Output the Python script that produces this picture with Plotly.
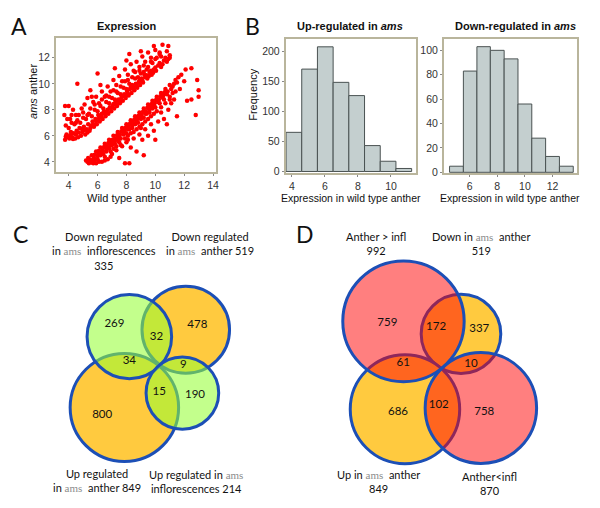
import plotly.graph_objects as go

# ---------------- Panel A: scatter (wild type anther vs ams anther) ----------------
UP_POINTS = [
    (3.75,5.7),(3.85,6.1),(3.95,5.9),(4.05,5.8),(4.15,6.3),(4.25,5.9),(4.35,6.2),(4.45,5.8),(4.55,6.4),(4.65,5.9),
    (4.75,6.6),(4.85,6.0),(4.95,6.3),(5.05,6.7),(5.15,6.1),(5.25,6.5),(5.35,6.9),(5.45,6.4),(5.55,6.8),(5.65,7.1),
    (5.75,6.7),(5.85,7.3),(5.95,6.9),(6.05,7.6),(6.15,7.1),(6.25,7.5),(6.35,7.3),(6.45,7.9),(6.55,7.5),(6.65,7.8),
    (6.75,7.7),(6.85,8.2),(6.95,7.9),(7.05,8.3),(7.15,8.1),(7.25,8.6),(7.35,8.3),(7.45,8.8),(7.55,8.5),(7.65,8.9),
    (7.75,8.7),(7.85,9.2),(7.95,8.9),(8.05,9.4),(8.15,9.1),(8.25,9.6),(8.35,9.3),(8.45,9.8),(8.55,9.5),(8.65,10.0),
    (8.75,9.7),(8.85,10.1),(8.95,9.9),(9.05,10.4),(9.15,10.1),(9.3,10.5),(9.45,10.4),(9.6,10.9),(9.75,10.7),(9.9,11.1),
    (10.05,11.0),(10.2,11.4),(10.4,11.3),(10.6,11.8),(10.8,11.7),(11.0,12.0),
    (3.8,5.95),(4.1,6.05),(4.3,5.75),(4.5,6.1),(4.7,6.25),(4.9,6.55),(5.1,6.45),(5.3,6.25),(5.5,6.6),(5.7,6.9),
    (5.9,7.15),(6.1,7.35),(6.3,7.7),(6.5,7.7),(6.7,8.0),(6.9,8.1),(7.1,8.45),(7.3,8.45),(7.5,8.65),(7.7,9.05),
    (7.9,9.05),(8.1,9.25),(8.3,9.75),(8.5,9.65),(8.7,9.85),(8.9,10.25),(9.1,10.25),(9.25,10.7),(9.4,10.65),(9.55,10.6),
    (9.7,11.0),(9.85,10.85),(10.0,11.25),(10.3,11.6),(10.5,11.5),(10.7,12.0),(10.9,11.9),
    (3.8,6.8),(4.0,6.6),(4.2,7.0),(4.4,6.9),(4.6,7.2),(4.8,7.0),(5.0,7.4),(5.2,7.3),(5.4,7.7),(5.6,7.5),
    (5.8,8.0),(6.0,7.9),(6.2,8.3),(6.4,8.1),(6.6,8.6),(6.8,8.5),(7.0,8.9),(7.2,8.8),(7.4,9.3),(7.6,9.2),
    (7.8,9.7),(8.0,9.6),(8.2,10.0),(8.4,9.9),(8.6,10.4),(8.8,10.5),(9.0,10.8),(9.2,10.9),(9.5,11.3),(9.8,11.6),
    (10.1,12.0),(10.4,12.1),
    (4.1,7.3),(4.5,7.0),(4.7,7.6),(5.0,7.8),(5.3,7.6),(5.5,8.1),(5.8,8.4),(6.1,8.5),(6.3,8.8),(6.6,9.1),
    (6.8,9.0),(7.1,9.5),(7.3,9.4),(7.6,9.8),(7.9,10.2),(8.1,10.3),(8.4,10.5),(8.6,10.9),(8.9,11.0),(9.2,11.4),
    (9.4,11.1),(9.7,11.7),(10.0,11.9),(10.3,12.4),
    (3.7,7.6),(3.75,8.3),(4.0,8.3),(3.9,7.3),(4.3,8.0),(4.5,7.6),(4.6,10.0),(4.9,8.1),(5.1,8.4),(5.3,8.9),
    (5.5,9.5),(5.7,8.6),(5.9,9.0),(6.0,10.8),(6.3,9.4),(6.5,9.0),(6.7,9.8),(6.9,9.4),(7.1,10.3),(7.3,9.9),
    (7.5,10.6),(7.7,10.2),(7.9,11.1),(8.1,10.7),(8.2,12.3),(8.3,11.5),(8.5,11.0),(8.7,11.7),(8.9,11.3),(9.1,12.1),
    (9.3,11.7),(9.5,12.4),(9.7,12.0),(10.0,12.6),(10.3,12.3),(10.5,13.0),(10.8,12.5),(10.9,12.9),(11.0,12.2),(9.9,12.9),
    (7.2,11.2),(6.2,9.9),(5.6,9.0),(4.2,7.6),(8.0,11.8),(9.0,12.5),
]
DOWN_POINTS = [
    (5.2,4.1),(5.35,4.3),(5.5,4.0),(5.6,4.5),(5.75,4.3),(5.9,4.8),(6.05,4.6),(6.2,5.1),(6.35,4.9),(6.5,5.4),
    (6.65,5.2),(6.8,5.7),(6.95,5.5),(7.1,6.0),(7.25,5.8),(7.4,6.3),(7.55,6.1),(7.7,6.6),(7.85,6.4),(8.0,6.9),
    (8.15,6.7),(8.3,7.2),(8.45,7.0),(8.6,7.5),(8.75,7.3),(8.9,7.8),(9.05,7.6),(9.2,8.1),(9.35,7.9),(9.5,8.4),
    (9.65,8.2),(9.8,8.7),(9.95,8.5),(10.1,9.0),(10.25,8.8),(10.4,9.3),(10.55,9.1),(10.7,9.6),(10.85,9.4),(11.0,9.9),
    (11.2,9.8),(11.4,10.3),(11.6,10.5),(11.8,10.7),
    (5.3,4.0),(5.45,4.2),(5.65,4.15),(5.8,4.55),(6.0,4.45),(6.1,4.85),(6.3,4.7),(6.45,5.15),(6.6,5.0),(6.75,5.45),
    (6.9,5.25),(7.05,5.7),(7.2,5.6),(7.35,6.05),(7.5,5.9),(7.65,6.35),(7.8,6.25),(7.95,6.65),(8.1,6.5),(8.25,6.95),
    (8.4,6.8),(8.55,7.25),(8.7,7.1),(8.85,7.55),(9.0,7.45),(9.15,7.85),(9.3,7.7),(9.45,8.15),(9.6,8.05),(9.75,8.45),
    (9.9,8.3),(10.05,8.75),(10.2,8.6),(10.35,9.05),(10.5,8.95),(10.65,9.35),(10.8,9.2),(11.1,9.6),(11.3,10.0),(11.5,10.1),
    (5.4,3.9),(5.7,3.9),(5.8,4.1),(6.0,4.2),(6.2,4.5),(6.4,4.6),(6.6,4.8),(6.8,5.0),(7.0,5.3),(7.2,5.4),
    (7.4,5.7),(7.6,5.8),(7.8,6.1),(8.0,6.2),(8.2,6.5),(8.4,6.6),(8.6,6.9),(8.8,7.0),(9.0,7.3),(9.2,7.4),
    (9.4,7.7),(9.6,7.8),(9.8,8.1),(10.0,8.2),(10.3,8.5),(10.6,8.8),
    (5.6,3.95),(6.1,4.0),(6.5,4.4),(6.9,4.8),(7.1,5.0),(7.3,5.2),(7.5,5.5),(7.9,5.8),(8.1,5.7),(8.3,6.2),
    (8.5,6.3),(8.7,6.5),(8.9,6.7),(9.1,6.9),(9.3,7.1),(9.5,7.3),(9.7,7.5),(9.9,7.7),(10.1,7.9),(10.4,8.2),
    (10.7,8.5),(11.0,8.8),(11.2,9.3),
    (5.9,3.9),(6.3,4.0),(6.7,4.2),(7.0,4.6),(7.3,4.9),(7.5,4.3),(7.7,5.2),(7.9,3.9),(8.2,3.9),(8.0,5.5),
    (8.3,5.1),(8.5,5.8),(8.7,4.8),(8.9,6.1),(9.1,5.7),(9.2,4.5),(9.3,6.5),(9.5,6.0),(9.7,6.9),(9.9,6.4),
    (10.0,5.7),(10.2,7.1),(10.4,7.8),(10.6,7.3),(10.9,8.0),(11.1,8.5),(11.3,8.8),(11.5,7.5),(11.4,9.4),(11.7,9.6),
    (12.0,10.2),(12.1,11.1),(12.5,11.2),(12.2,8.7),(12.5,8.8),(12.8,7.6),(12.9,10.3),(13.0,9.5),(13.0,9.0),(10.8,6.9),
    (11.0,9.0),(9.0,6.6),(8.1,6.0),(7.6,5.3),(6.9,4.4),(6.5,4.1),
]
A_XTICKS = [4, 6, 8, 10, 12, 14]
A_YTICKS = [4, 6, 8, 10, 12]

# ---------------- Panel B: histograms ----------------
UP_EDGES = [3.65, 4.6, 5.55, 6.5, 7.45, 8.4, 9.35, 10.3, 11.25]
UP_COUNTS = [65, 170, 207, 148, 126, 43, 17, 5]
DOWN_EDGES = [4.55, 5.55, 6.53, 7.5, 8.5, 9.5, 10.5, 11.5, 12.5, 13.5]
DOWN_COUNTS = [5, 83, 103, 100, 93, 56, 28, 13, 5]
UP_XTICKS = [4, 6, 8, 10]
UP_YTICKS = [0, 50, 100, 150, 200]
DOWN_XTICKS = [6, 8, 10, 12]
DOWN_YTICKS = [0, 20, 40, 60, 80, 100]

# ---------------- Panel C / D: Venn counts ----------------
C_REGION_COUNTS = [269, 32, 478, 34, 9, 15, 190, 800]
C_SET_TOTALS = [335, 519, 849, 214]
D_REGION_COUNTS = [759, 172, 337, 61, 10, 102, 686, 758]
D_SET_TOTALS = [992, 519, 849, 870]

# Venn geometry (local units, layout only)
C_CIRCLES = [  # (cx, cy, r, kind)
    (36.7, 37.0, 44.0, "orange"),
    (-25.0, -41.5, 54.5, "orange"),
    (-20.0, 30.0, 42.5, "green"),
    (33.3, -27.0, 36.5, "green"),
]
C_LABEL_POS = [(-35, 42.7), (7.3, 30), (48.3, 41.3), (-20, 5.7), (34.3, 1.7), (10, -26), (46, -28.7), (-47.3, -49.3)]
D_CIRCLES = [
    (13.3, 32.8, 40.0, "orange"),
    (-43.0, -43.3, 55.0, "orange"),
    (-44.5, 45.5, 61.0, "pink"),
    (33.3, -42.0, 56.0, "pink"),
]
D_LABEL_POS = [(-60.7, 43.3), (-11.7, 40), (31.7, 37.7), (-44.7, 3.3), (23.3, 2.7), (-9, -39), (-50, -46), (36.7, -46.7)]

FILLS = {"orange": "rgb(255,202,63)", "green": "rgba(150,255,53,0.57)", "pink": "rgba(255,0,0,0.5)"}
BLUE = "#1c4fb6"
FONT = "Liberation Sans"
VFONT = "Lato"

fig = go.Figure()

# Scatter
fig.add_trace(go.Scatter(x=[p[0] for p in UP_POINTS], y=[p[1] for p in UP_POINTS], mode="markers",
                         marker=dict(color="#ff0000", size=4.5), xaxis="x", yaxis="y", showlegend=False))
fig.add_trace(go.Scatter(x=[p[0] for p in DOWN_POINTS], y=[p[1] for p in DOWN_POINTS], mode="markers",
                         marker=dict(color="#ff0000", size=4.5), xaxis="x", yaxis="y", showlegend=False))

# Histograms
def bar_from_edges(edges, counts, xa, ya):
    centers = [(edges[i] + edges[i + 1]) / 2 for i in range(len(counts))]
    widths = [edges[i + 1] - edges[i] for i in range(len(counts))]
    return go.Bar(x=centers, y=counts, width=widths, xaxis=xa, yaxis=ya, showlegend=False,
                  marker=dict(color="#c4cfcf", line=dict(color="#4a5252", width=1)))

fig.add_trace(bar_from_edges(UP_EDGES, UP_COUNTS, "x2", "y2"))
fig.add_trace(bar_from_edges(DOWN_EDGES, DOWN_COUNTS, "x3", "y3"))

# Venn numbers as text traces
fig.add_trace(go.Scatter(x=[p[0] for p in C_LABEL_POS], y=[p[1] for p in C_LABEL_POS], mode="text",
                         text=[str(v) for v in C_REGION_COUNTS], textfont=dict(family=VFONT, size=11.5, color="#111"),
                         xaxis="x4", yaxis="y4", showlegend=False))
fig.add_trace(go.Scatter(x=[p[0] for p in D_LABEL_POS], y=[p[1] for p in D_LABEL_POS], mode="text",
                         text=[str(v) for v in D_REGION_COUNTS], textfont=dict(family=VFONT, size=11.5, color="#111"),
                         xaxis="x5", yaxis="y5", showlegend=False))

shapes = []
for circles, xr, yr in [(C_CIRCLES, "x4", "y4"), (D_CIRCLES, "x5", "y5")]:
    for cx, cy, r, kind in circles:
        shapes.append(dict(type="circle", xref=xr, yref=yr, x0=cx - r, x1=cx + r, y0=cy - r, y1=cy + r,
                           fillcolor=FILLS[kind], line=dict(color=BLUE, width=3), layer="below"))

tickfont = dict(family=FONT, size=10.5, color="#333")
frame = dict(showline=True, mirror=True, linecolor="#b9b59c", linewidth=1.5, ticks="outside",
             ticklen=2, tickcolor="#888", showgrid=False, zeroline=False, tickfont=tickfont)

fig.update_layout(
    width=600, height=508, margin=dict(l=0, r=0, t=0, b=0),
    paper_bgcolor="white", plot_bgcolor="white", showlegend=False, barmode="overlay",
    xaxis=dict(domain=[0.0933, 0.3617], range=[3.1, 14.2], tickvals=A_XTICKS, anchor="y", **frame),
    yaxis=dict(domain=[0.6575, 0.9252], range=[3.2, 13.55], tickvals=A_YTICKS, anchor="x", **frame),
    xaxis2=dict(domain=[0.4783, 0.6967], range=[3.62, 11.51], tickvals=UP_XTICKS, anchor="y2", **frame),
    yaxis2=dict(domain=[0.6555, 0.9232], range=[-3, 220.6], tickvals=UP_YTICKS, anchor="x2", **frame),
    xaxis3=dict(domain=[0.7433, 0.9667], range=[4.13, 13.78], tickvals=DOWN_XTICKS, anchor="y3", **frame),
    yaxis3=dict(domain=[0.6555, 0.9232], range=[-0.8, 109.6], tickvals=DOWN_YTICKS, anchor="x3", **frame),
    xaxis4=dict(domain=[0, 0.5], range=[-150, 150], visible=False, anchor="y4"),
    yaxis4=dict(domain=[0, 0.5472], range=[-138, 140], visible=False, anchor="x4"),
    xaxis5=dict(domain=[0.5, 1.0], range=[-150, 150], visible=False, anchor="y5"),
    yaxis5=dict(domain=[0, 0.5472], range=[-138, 140], visible=False, anchor="x5"),
    shapes=shapes,
)

def px(x, y):
    return x / 600.0, 1 - y / 508.0

AMS = "<span style='color:#8c8c8c;font-family:Liberation Serif'>ams</span>"
ann = []
def add(text, x, y, size=12, family=FONT, angle=0, color="#111", yanchor="middle"):
    xp, yp = px(x, y)
    ann.append(dict(text=text, x=xp, y=yp, xref="paper", yref="paper", showarrow=False,
                    xanchor="center", yanchor=yanchor, textangle=angle,
                    font=dict(family=family, size=size, color=color)))

# Panel letters
add("A", 19, 26, size=23, family=VFONT)
add("B", 254, 26, size=23, family=VFONT)
add("C", 21, 236, size=23, family=VFONT)
add("D", 307, 236, size=23, family=VFONT)

# Panel A/B texts
add("<b>Expression</b>", 128, 26, size=11)
add("<b>Up-regulated in <i>ams</i></b>", 352, 26, size=11)
add("<b>Down-regulated in <i>ams</i></b>", 518, 26, size=11)
add("Wild type anther", 128, 200, size=11)
add("<i>ams</i> anther", 33, 92, size=11, angle=-90)
add("Frequency", 254, 96, size=11, angle=-90)
add("Expression in wild type anther", 353, 200, size=10.5)
add("Expression in wild type anther", 513, 200, size=10.5)

# Venn C labels
add("Down regulated<br>in " + AMS + "  inflorescences<br>" + str(C_SET_TOTALS[0]), 105, 230, size=11, family=VFONT, yanchor="top")
add("Down regulated<br>in " + AMS + "  anther " + str(C_SET_TOTALS[1]), 211, 230, size=11, family=VFONT, yanchor="top")
add("Up regulated<br>in " + AMS + "  anther " + str(C_SET_TOTALS[2]), 97, 470, size=11, family=VFONT, yanchor="top")
add("Up regulated in " + AMS + "<br>inflorescences " + str(C_SET_TOTALS[3]), 197, 471, size=11, family=VFONT, yanchor="top")

# Venn D labels
add("Anther &gt; infl<br>" + str(D_SET_TOTALS[0]), 378, 230, size=11, family=VFONT, yanchor="top")
add("Down in " + AMS + "  anther<br>" + str(D_SET_TOTALS[1]), 483, 230, size=11, family=VFONT, yanchor="top")
add("Up in " + AMS + "  anther<br>" + str(D_SET_TOTALS[2]), 380, 471, size=11, family=VFONT, yanchor="top")
add("Anther&lt;infl<br>" + str(D_SET_TOTALS[3]), 492, 473, size=11, family=VFONT, yanchor="top")

fig.update_layout(annotations=ann)
fig.write_html("out.html", config={"displayModeBar": False},
               post_script="document.body.style.margin='0px';document.body.style.padding='0px';")
